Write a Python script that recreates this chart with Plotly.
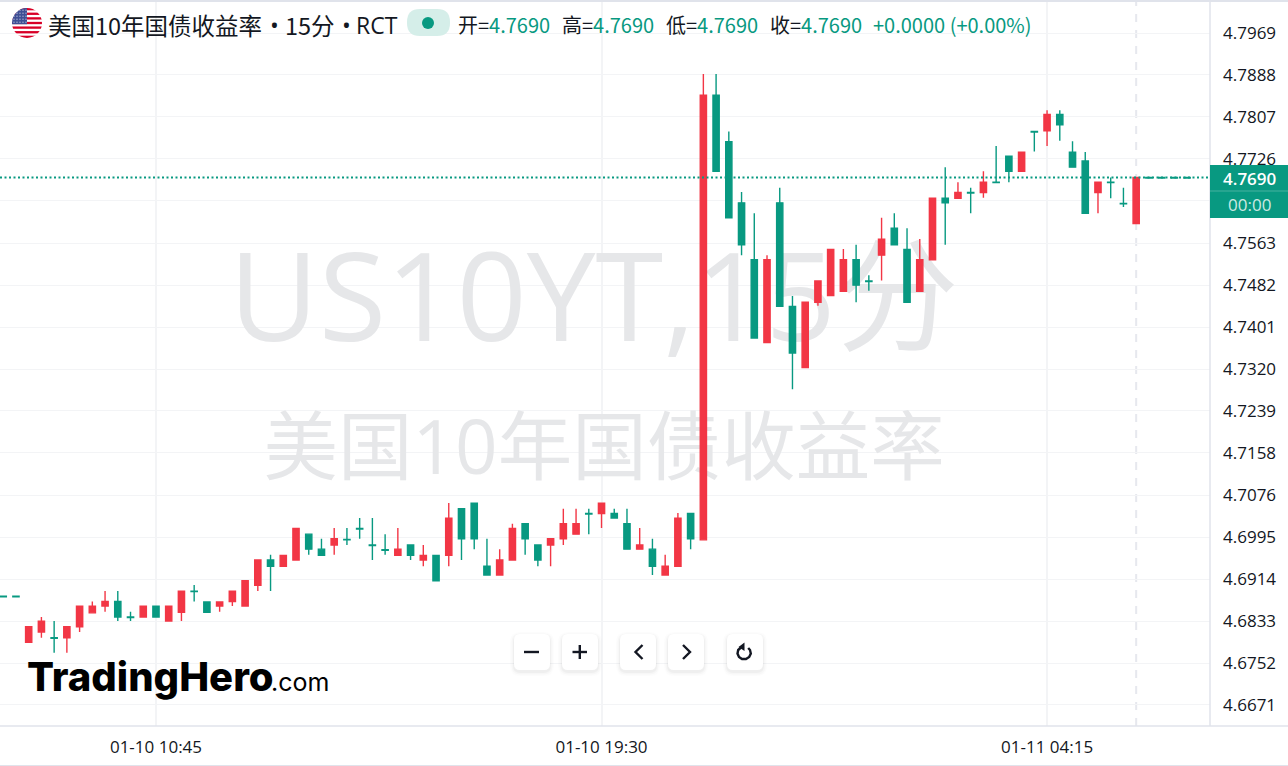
#!/usr/bin/env python3
import base64
import pandas as pd
import plotly.graph_objects as go

# 15 minute bars, 01-10 07:45 onwards
first_bar = "2025-01-10 07:45"

open_prices = [
    4.6881, 4.6881, 4.6792, 4.6812, 4.6801, 4.6801, 4.6822, 4.6849, 4.6862, 4.6871, 4.6841, 4.6841,
    4.6862, 4.6833, 4.6850, 4.6891, 4.6870, 4.6862, 4.6871, 4.6862, 4.6902, 4.6951, 4.6939, 4.6951,
    4.7001, 4.6972, 4.6980, 4.6991, 4.7012, 4.6980, 4.6971, 4.6960, 4.6980, 4.6951, 4.6960, 4.6960,
    4.7050, 4.7061, 4.6939, 4.6922, 4.6951, 4.7021, 4.6980, 4.6980, 4.6992, 4.7001, 4.7041, 4.7041,
    4.7041, 4.7021, 4.6972, 4.6972, 4.6922, 4.6939, 4.7041, 4.6990, 4.7849, 4.7759, 4.7641, 4.7531,
    4.7371, 4.7641, 4.7441, 4.7323, 4.7449, 4.7462, 4.7470, 4.7531, 4.7490, 4.7540, 4.7592, 4.7551,
    4.7470, 4.7531, 4.7650, 4.7650, 4.7661, 4.7661, 4.7681, 4.7731, 4.7702, 4.7779, 4.7780, 4.7812,
    4.7739, 4.7722, 4.7661, 4.7681, 4.7640, 4.7601, 4.7690, 4.7690, 4.7690, 4.7690,
]
high_prices = [
    4.6881, 4.6881, 4.6822, 4.6841, 4.6833, 4.6822, 4.6862, 4.6871, 4.6891, 4.6891, 4.6851, 4.6862,
    4.6862, 4.6862, 4.6891, 4.6903, 4.6870, 4.6870, 4.6891, 4.6911, 4.6951, 4.6961, 4.6960, 4.7012,
    4.7001, 4.6992, 4.7013, 4.7013, 4.7032, 4.7032, 4.7001, 4.7013, 4.6980, 4.6980, 4.6960, 4.7061,
    4.7050, 4.7061, 4.6992, 4.6972, 4.7021, 4.7021, 4.6980, 4.6992, 4.7050, 4.7050, 4.7050, 4.7061,
    4.7050, 4.7050, 4.7013, 4.6992, 4.6961, 4.7042, 4.7041, 4.7890, 4.7890, 4.7779, 4.7662, 4.7621,
    4.7540, 4.7670, 4.7461, 4.7449, 4.7490, 4.7551, 4.7552, 4.7560, 4.7501, 4.7612, 4.7621, 4.7592,
    4.7571, 4.7650, 4.7710, 4.7681, 4.7670, 4.7702, 4.7751, 4.7731, 4.7739, 4.7779, 4.7820, 4.7820,
    4.7760, 4.7739, 4.7681, 4.7690, 4.7670, 4.7690, 4.7690, 4.7690, 4.7690, 4.7690,
]
low_prices = [
    4.6880, 4.6880, 4.6792, 4.6801, 4.6772, 4.6772, 4.6812, 4.6849, 4.6851, 4.6833, 4.6833, 4.6841,
    4.6841, 4.6833, 4.6833, 4.6871, 4.6850, 4.6851, 4.6862, 4.6862, 4.6891, 4.6891, 4.6939, 4.6951,
    4.6961, 4.6960, 4.6961, 4.6980, 4.6992, 4.6951, 4.6961, 4.6960, 4.6951, 4.6939, 4.6911, 4.6939,
    4.6951, 4.6972, 4.6922, 4.6922, 4.6951, 4.6961, 4.6939, 4.6939, 4.6980, 4.7001, 4.7001, 4.7013,
    4.7032, 4.6972, 4.6972, 4.6922, 4.6922, 4.6939, 4.6972, 4.6990, 4.7702, 4.7612, 4.7540, 4.7380,
    4.7371, 4.7441, 4.7281, 4.7323, 4.7442, 4.7462, 4.7470, 4.7449, 4.7471, 4.7491, 4.7560, 4.7449,
    4.7470, 4.7531, 4.7560, 4.7650, 4.7621, 4.7651, 4.7680, 4.7681, 4.7702, 4.7740, 4.7751, 4.7761,
    4.7710, 4.7621, 4.7621, 4.7650, 4.7633, 4.7601, 4.7689, 4.7689, 4.7689, 4.7689,
]
close_prices = [
    4.6880, 4.6880, 4.6822, 4.6833, 4.6800, 4.6822, 4.6862, 4.6862, 4.6871, 4.6841, 4.6840, 4.6862,
    4.6841, 4.6862, 4.6891, 4.6890, 4.6850, 4.6870, 4.6891, 4.6911, 4.6951, 4.6939, 4.6960, 4.7012,
    4.6972, 4.6960, 4.6992, 4.6990, 4.7011, 4.6979, 4.6970, 4.6972, 4.6960, 4.6960, 4.6911, 4.7032,
    4.6992, 4.6992, 4.6922, 4.6951, 4.7012, 4.6992, 4.6951, 4.6992, 4.7021, 4.7021, 4.7040, 4.7061,
    4.7032, 4.6972, 4.6980, 4.6939, 4.6939, 4.7032, 4.6992, 4.7849, 4.7702, 4.7612, 4.7560, 4.7380,
    4.7531, 4.7441, 4.7351, 4.7449, 4.7490, 4.7551, 4.7531, 4.7482, 4.7489, 4.7571, 4.7560, 4.7449,
    4.7531, 4.7650, 4.7641, 4.7661, 4.7660, 4.7681, 4.7680, 4.7702, 4.7739, 4.7778, 4.7812, 4.7792,
    4.7710, 4.7621, 4.7681, 4.7680, 4.7639, 4.7690, 4.7689, 4.7689, 4.7689, 4.7689,
]

# 4.7645 keeps its grid line, its label is hidden behind the 00:00 box
price_ticks = [4.7969, 4.7888, 4.7807, 4.7726, 4.7645, 4.7563, 4.7482, 4.7401, 4.7320,
               4.7239, 4.7158, 4.7076, 4.6995, 4.6914, 4.6833, 4.6752, 4.6671]
price_tick_labels = ["4.7969", "4.7888", "4.7807", "4.7726", "", "4.7563", "4.7482", "4.7401", "4.7320",
                     "4.7239", "4.7158", "4.7076", "4.6995", "4.6914", "4.6833", "4.6752", "4.6671"]
time_ticks = ["2025-01-10 10:45", "2025-01-10 19:30", "2025-01-11 04:15"]
time_tick_labels = ["01-10 10:45", "01-10 19:30", "01-11 04:15"]

last_price = 4.7690
last_bar_time = "2025-01-11 06:00"
legend_keys = ["开=", "高=", "低=", "收="]
legend_values = ["4.7690", "4.7690", "4.7690", "4.7690"]

GREEN = "#089981"
RED = "#F23645"
INK = "#131722"
GRID = "#F3F4F6"
BORDER = "#E0E3EB"
WATERMARK = "#E6E7E9"
CN_FONT = "Noto Sans CJK SC"
NUM_FONT = "Open Sans, Noto Sans CJK SC"

W, H = 1288, 766
PLOT_L, PLOT_R, PLOT_T, PLOT_B = 0, 1210, 2, 726

x_range = ["2025-01-10 07:41:12", "2025-01-11 07:27:00"]
y_range = [4.66304, 4.80290]


# shapes for the toolbar and such are placed in pixels of the picture
def px(x):
    return (x - PLOT_L) / (PLOT_R - PLOT_L)


def py(y):
    return (PLOT_B - y) / (PLOT_B - PLOT_T)


def pixel_path(points, close=False):
    s = "M " + " L ".join(f"{px(a):.5f} {py(b):.5f}" for a, b in points)
    return s + (" Z" if close else "")


def round_rect(x0, y0, x1, y1, r):
    a0, a1, b0, b1 = px(x0), px(x1), py(y0), py(y1)
    rx, ry = r / (PLOT_R - PLOT_L), r / (PLOT_B - PLOT_T)
    return (f"M {a0+rx:.5f} {b0:.5f} L {a1-rx:.5f} {b0:.5f} Q {a1:.5f} {b0:.5f} {a1:.5f} {b0-ry:.5f} "
            f"L {a1:.5f} {b1+ry:.5f} Q {a1:.5f} {b1:.5f} {a1-rx:.5f} {b1:.5f} "
            f"L {a0+rx:.5f} {b1:.5f} Q {a0:.5f} {b1:.5f} {a0:.5f} {b1+ry:.5f} "
            f"L {a0:.5f} {b0-ry:.5f} Q {a0:.5f} {b0:.5f} {a0+rx:.5f} {b0:.5f} Z")


def paper_shape(**kw):
    return dict(xref="paper", yref="paper", layer="above", **kw)


shapes = []

# cursor line and last price line
shapes.append(dict(type="line", xref="x", yref="paper", x0=last_bar_time, x1=last_bar_time, y0=0, y1=1,
                   layer="below", line=dict(color="#E6E8EE", width=2, dash="8px,8px")))
shapes.append(dict(type="line", xref="paper", yref="y", x0=0, x1=1, y0=last_price, y1=last_price,
                   layer="above", line=dict(color=GREEN, width=2, dash="2px,2.5px")))

# frame
shapes.append(paper_shape(type="rect", x0=px(0), x1=px(W), y0=py(0), y1=py(2), fillcolor=BORDER, line_width=0))
shapes.append(paper_shape(type="line", x0=px(0), x1=px(W), y0=py(726), y1=py(726), line=dict(color=BORDER, width=1.5)))
shapes.append(paper_shape(type="line", x0=px(0), x1=px(W), y0=py(765.5), y1=py(765.5), line=dict(color=BORDER, width=1)))
shapes.append(paper_shape(type="line", x0=px(1210), x1=px(1210), y0=py(0), y1=py(726), line=dict(color=BORDER, width=1.5)))

# price label on the axis
shapes.append(paper_shape(type="rect", x0=px(1210), x1=px(W), y0=py(165), y1=py(218), fillcolor=GREEN, line_width=0))
shapes.append(paper_shape(type="line", x0=px(1210), x1=px(W), y0=py(191), y1=py(191),
                          line=dict(color="rgba(255,255,255,0.25)", width=1)))

# live dot in the header
shapes.append(paper_shape(type="path", path=round_rect(407, 9, 450, 36, 13), fillcolor="#D5EEE9", line_width=0))
shapes.append(paper_shape(type="circle", x0=px(422), x1=px(434), y0=py(17), y1=py(29), fillcolor=GREEN, line_width=0))

# toolbar buttons
for left in [514, 562, 620, 668, 727]:
    for grow, alpha in [(4, 0.012), (2.5, 0.02), (1, 0.03)]:
        shapes.append(paper_shape(type="path", path=round_rect(left - grow, 634 - grow + 2, left + 36 + grow, 670 + grow + 2, 6 + grow),
                                  fillcolor=f"rgba(0,0,0,{alpha})", line_width=0))
    shapes.append(paper_shape(type="path", path=round_rect(left, 634, left + 36, 670, 6), fillcolor="#FFFFFF", line_width=0))

icon = dict(color=INK, width=2.4)
shapes.append(paper_shape(type="path", path=pixel_path([(524, 652), (539, 652)]), line=icon))
shapes.append(paper_shape(type="path", path=pixel_path([(572.5, 652), (587, 652)]), line=icon))
shapes.append(paper_shape(type="path", path=pixel_path([(579.8, 645), (579.8, 659)]), line=icon))
shapes.append(paper_shape(type="path", path=pixel_path([(642.5, 645), (635.5, 652), (642.5, 659)]), line=icon))
shapes.append(paper_shape(type="path", path=pixel_path([(683, 645), (690, 652), (683, 659)]), line=icon))
# reload arrow
shapes.append(paper_shape(type="path", line=icon,
                          path=pixel_path([(744, 647), (741, 647.5), (738.2, 650), (737.5, 653.5), (739, 657),
                                           (742, 659), (746, 659), (749.2, 657), (750.8, 653.5), (750, 650), (748.2, 648)])))
shapes.append(paper_shape(type="path", fillcolor=INK, line_width=0,
                          path=pixel_path([(744.5, 642.5), (744.5, 651), (738.5, 647)], close=True)))

annotations = []


def label(x, y, text, size, color=INK, family=CN_FONT, anchor="left", weight=400):
    annotations.append(dict(x=px(x), y=py(y), xref="paper", yref="paper", text=text, showarrow=False,
                            xanchor=anchor, yanchor="middle", borderpad=0, borderwidth=0,
                            font=dict(size=size, color=color, family=family, weight=weight)))


label(48, 24.5, "美国10年国债收益率", 23.5)
label(270, 24.5, "•", 23.5, family=NUM_FONT)
label(285, 24.5, "15分", 23.5)
label(342, 24.5, "•", 23.5, family=NUM_FONT)
label(356, 24.5, "RCT", 23, family=NUM_FONT)
for x_pos, key, val in zip([458, 562, 666, 770], legend_keys, legend_values):
    label(x_pos, 24.5, f'{key}<span style="color:{GREEN}">{val}</span>', 20)
label(873, 24.5, "+0.0000 (+0.00%)", 20, GREEN)

label(1250, 178, "4.7690", 17, "#FFFFFF", NUM_FONT, "center", weight=600)
label(1250, 205, "00:00", 17, "#CDE9E3", NUM_FONT, "center", weight=500)

# logo
label(27, 676, "TradingHero", 40, "#000000", "Inter", weight=800)
label(271, 682, ".com", 25, "#000000", "Inter")

# round US flag for the header
stripes = "".join(f'<rect y="{i * 30 / 13:.2f}" width="30" height="{30 / 13:.2f}"/>' for i in range(0, 13, 2))
stars = "".join(f'<circle cx="{2 + col * 3}" cy="{2.2 + row * 3}" r="0.6"/>' for row in range(5) for col in range(5))
flag_svg = f"""<svg xmlns="http://www.w3.org/2000/svg" viewBox="0 0 30 30">
<clipPath id="c"><circle cx="15" cy="15" r="15"/></clipPath><g clip-path="url(#c)">
<rect width="30" height="30" fill="#fff"/>
<g fill="#D80027">{stripes}</g>
<rect width="15" height="16.2" fill="#3F4F95"/><g fill="#fff" opacity="0.75">{stars}</g></g></svg>"""
flag_uri = "data:image/svg+xml;base64," + base64.b64encode(flag_svg.encode()).decode()

bar_times = pd.date_range(first_bar, periods=len(open_prices), freq="15min")

fig = go.Figure()

# watermark sits on the base axes, so the candles on the overlay axes cover it
fig.add_trace(go.Scatter(
    x=["2025-01-10 19:21", "2025-01-10 19:33"], y=[4.7434, 4.71535],
    text=["US10YT,15分", "美国10年国债收益率"], mode="text",
    textfont=dict(size=[123, 74.5], color=WATERMARK, family=NUM_FONT),
    xaxis="x", yaxis="y", hoverinfo="skip", showlegend=False,
))

fig.add_trace(go.Candlestick(
    x=bar_times, open=open_prices, high=high_prices, low=low_prices, close=close_prices,
    increasing=dict(line=dict(color=RED, width=1.4), fillcolor=RED),
    decreasing=dict(line=dict(color=GREEN, width=1.4), fillcolor=GREEN),
    whiskerwidth=0, xaxis="x2", yaxis="y2", showlegend=False,
))

fig.update_layout(
    width=W, height=H,
    margin=dict(l=PLOT_L, r=W - PLOT_R, t=PLOT_T, b=H - PLOT_B, pad=0),
    paper_bgcolor="#FFFFFF", plot_bgcolor="#FFFFFF",
    boxgap=0.3, showlegend=False,
    xaxis=dict(type="date", range=x_range, tickvals=time_ticks, ticktext=time_tick_labels,
               showgrid=True, gridcolor=GRID, gridwidth=1.5, zeroline=False, showline=False, ticks="",
               tickfont=dict(size=17, color=INK, family=NUM_FONT), ticklabelstandoff=9,
               rangeslider=dict(visible=False)),
    yaxis=dict(range=y_range, tickvals=price_ticks, ticktext=price_tick_labels,
               side="right", showgrid=True, gridcolor=GRID, gridwidth=1, zeroline=False, showline=False,
               ticks="", tickfont=dict(size=17, color=INK, family=NUM_FONT), ticklabelstandoff=12),
    xaxis2=dict(type="date", range=x_range, overlaying="x", visible=False, rangeslider=dict(visible=False)),
    yaxis2=dict(range=y_range, overlaying="y", visible=False),
    shapes=shapes,
    annotations=annotations,
    images=[dict(source=flag_uri, xref="paper", yref="paper", x=px(12), y=py(8), sizex=px(30), sizey=30 / (PLOT_B - PLOT_T),
                 xanchor="left", yanchor="top", layer="above")],
)

fig.write_html("out.html", config=dict(displayModeBar=False),
               post_script="document.body.style.margin='0';document.body.style.overflow='hidden';")
